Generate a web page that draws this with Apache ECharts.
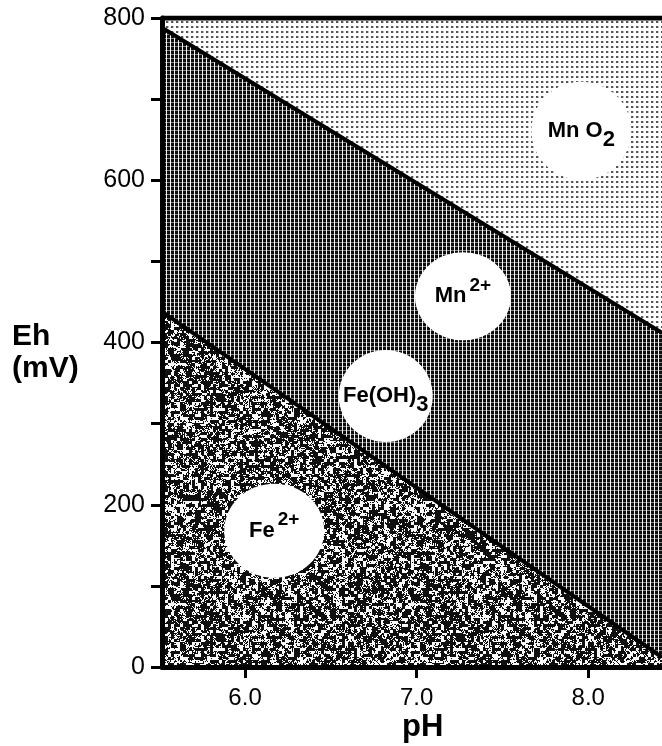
<!DOCTYPE html>
<html>
<head>
<meta charset="utf-8">
<script src="https://cdn.jsdelivr.net/npm/echarts@6/dist/echarts.min.js"></script>
<style>
  html, body { margin: 0; padding: 0; background: #fff; }
  #chart { width: 662px; height: 746px; }
</style>
</head>
<body>
<div id="chart"></div>
<script>
// axis range and ticks
const phRange = [5.516, 8.43]
const ehRange = [0, 800]
const phTicks = [6.0, 7.0, 8.0]
const ehLabels = [0, 200, 400, 600, 800]

// stability boundaries (pH, Eh mV)
const topEdge = [[5.516, 800], [8.43, 800]]
const mnBoundary = [[5.516, 788], [8.43, 412]]
const feBoundary = [[5.516, 438], [8.43, 12]]

// species labels
const speciesBase = ['Mn O', 'Mn', 'Fe(OH)', 'Fe']
const speciesIndex = ['2', '2+', '3', '2+']
const speciesIndexKind = ['sub', 'sup', 'sub', 'sup']
const speciesPos = [[7.96, 661], [7.27, 457], [6.82, 334], [6.17, 168]]
const speciesSize = [[100, 98], [96, 88], [94, 92], [100, 94]]

const FONT = '"Liberation Sans", Arial, Helvetica, sans-serif'

// seeded generator (mulberry32) so the texture is the same every run
let seed = 1234567
function rnd() {
  seed |= 0
  seed = (seed + 0x6D2B79F5) | 0
  let t = Math.imul(seed ^ (seed >>> 15), 1 | seed)
  t = (t + Math.imul(t ^ (t >>> 7), 61 | t)) ^ t
  return ((t ^ (t >>> 14)) >>> 0) / 4294967296
}

function dotTile() {
  const c = document.createElement('canvas')
  c.width = 5; c.height = 5
  const ctx = c.getContext('2d')
  ctx.fillStyle = '#fff'
  ctx.fillRect(0, 0, 5, 5)
  ctx.fillStyle = '#555'
  ctx.fillRect(1, 1, 2, 2)
  ctx.fillStyle = '#c8c8c8'
  ctx.fillRect(3, 1, 1, 2)
  return c
}

function hatchTile() {
  const c = document.createElement('canvas')
  c.width = 4; c.height = 4
  const ctx = c.getContext('2d')
  ctx.fillStyle = '#0c0c0c'
  ctx.fillRect(0, 0, 4, 4)
  ctx.fillStyle = '#f4f4f4'
  ctx.fillRect(2, 0, 1, 4)
  ctx.fillStyle = 'rgba(255,255,255,0.5)'
  ctx.fillRect(0, 2, 4, 1)
  return c
}

function noiseTile() {
  const n = 240
  const cell = 3
  const m = n / cell
  const c = document.createElement('canvas')
  c.width = n; c.height = n
  const ctx = c.getContext('2d')
  const img = ctx.createImageData(n, n)
  const coarse = []
  for (let i = 0; i < m * m; i++) coarse.push(rnd())
  for (let y = 0; y < n; y++) {
    for (let x = 0; x < n; x++) {
      const v = 0.4 * rnd() + 0.6 * coarse[Math.floor(y / cell) * m + Math.floor(x / cell)]
      const k = v > 0.42 ? 15 : 250
      const p = (y * n + x) * 4
      img.data[p] = k; img.data[p + 1] = k; img.data[p + 2] = k; img.data[p + 3] = 255
    }
  }
  ctx.putImageData(img, 0, 0)
  return c
}

const chart = echarts.init(document.getElementById('chart'))

const bold = { color: '#000', fontFamily: FONT, fontWeight: 'bold' }

const speciesData = speciesPos.map((p, i) => ({
  value: p,
  symbolSize: speciesSize[i],
  label: {
    formatter: '{b|' + speciesBase[i] + '}{' + speciesIndexKind[i] + '|' + speciesIndex[i] + '}'
  }
}))

const option = {
  animation: false,
  backgroundColor: '#fff',
  grid: { left: 162, right: 0, top: 18, bottom: 79 },
  xAxis: {
    type: 'value',
    min: phRange[0],
    max: phRange[1],
    z: 5,
    splitLine: { show: false },
    axisLine: { lineStyle: { color: '#000', width: 5 } },
    axisTick: { customValues: phTicks, length: 11, lineStyle: { color: '#000', width: 3 } },
    axisLabel: {
      customValues: phTicks,
      formatter: v => v.toFixed(1),
      margin: 19,
      color: '#000',
      fontSize: 24,
      fontFamily: FONT
    }
  },
  yAxis: {
    type: 'value',
    min: ehRange[0],
    max: ehRange[1],
    interval: 100,
    z: 5,
    splitLine: { show: false },
    axisLine: { lineStyle: { color: '#000', width: 5 } },
    axisTick: { length: 11, lineStyle: { color: '#000', width: 3 } },
    axisLabel: {
      customValues: ehLabels,
      margin: 17,
      color: '#000',
      fontSize: 25,
      fontFamily: FONT
    }
  },
  graphic: [
    { type: 'text', left: 12, top: 322, style: Object.assign({ text: 'Eh', fontSize: 30 }, bold) },
    { type: 'text', left: 12, top: 354, style: Object.assign({ text: '(mV)', fontSize: 30 }, bold) },
    { type: 'text', left: 402, top: 712, style: Object.assign({ text: 'pH', fontSize: 31 }, bold) }
  ],
  series: [
    {
      name: 'MnO2 field',
      type: 'line',
      data: topEdge,
      symbol: 'none',
      z: 1,
      lineStyle: { color: '#000', width: 5 },
      areaStyle: { color: { image: dotTile(), repeat: 'repeat' }, opacity: 1 }
    },
    {
      name: 'Mn boundary',
      type: 'line',
      data: mnBoundary,
      symbol: 'none',
      z: 2,
      lineStyle: { color: '#000', width: 4 },
      areaStyle: { color: { image: hatchTile(), repeat: 'repeat' }, opacity: 1 }
    },
    {
      name: 'Fe boundary',
      type: 'line',
      data: feBoundary,
      symbol: 'none',
      z: 3,
      lineStyle: { color: '#000', width: 4 },
      areaStyle: { color: { image: noiseTile(), repeat: 'repeat' }, opacity: 1 }
    },
    {
      name: 'species',
      type: 'scatter',
      symbol: 'circle',
      z: 4,
      data: speciesData,
      itemStyle: { color: '#fff', opacity: 1 },
      label: {
        show: true,
        position: 'inside',
        rich: {
          b: { fontSize: 22, fontWeight: 'bold', fontFamily: FONT, color: '#000', lineHeight: 40, verticalAlign: 'middle' },
          sub: { fontSize: 22, fontWeight: 'bold', fontFamily: FONT, color: '#000', lineHeight: 22, verticalAlign: 'bottom' },
          sup: { fontSize: 19, fontWeight: 'bold', fontFamily: FONT, color: '#000', lineHeight: 22, verticalAlign: 'top', padding: [0, 0, 0, 3] }
        }
      }
    }
  ]
}

chart.setOption(option)
</script>
</body>
</html>
